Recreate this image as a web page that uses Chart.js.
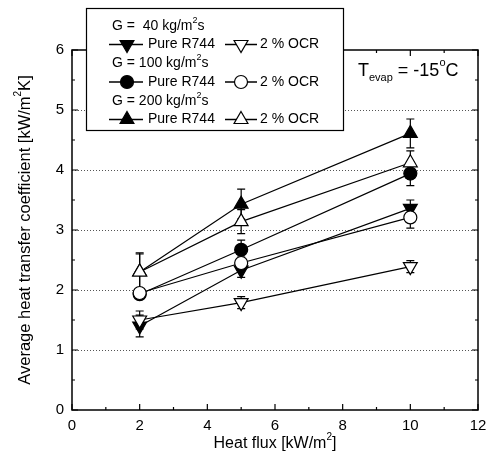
<!DOCTYPE html>
<html>
<head>
<meta charset="utf-8">
<script src="https://cdn.jsdelivr.net/npm/chart.js@4.4.1/dist/chart.umd.min.js"></script>
<style>
  body { margin: 0; background: #fff; }
  #wrap { width: 492px; height: 456px; }
</style>
</head>
<body>
<div id="wrap"><canvas id="htc" width="492" height="456"></canvas></div>
<script>
// Données
const heatFlux = [2, 5, 10];
const g40Pure = [1.40, 2.33, 3.36];
const g40Ocr = [1.50, 1.79, 2.39];
const g100Pure = [1.93, 2.67, 3.94];
const g100Ocr = [1.95, 2.45, 3.21];
const g200Pure = [2.30, 3.43, 4.61];
const g200Ocr = [2.30, 3.14, 4.12];

// Barres d'erreur (demi-largeur)
const g40PureErr = [0.18, 0.12, 0.14];
const g40OcrErr = [0.15, 0.10, 0.10];
const g100PureErr = [0.05, 0.16, 0.20];
const g100OcrErr = [0.05, 0.10, 0.18];
const g200PureErr = [0.30, 0.25, 0.24];
const g200OcrErr = [0.32, 0.20, 0.20];

const xTicks = [0, 2, 4, 6, 8, 10, 12];
const yTicks = [0, 1, 2, 3, 4, 5, 6];
const legendGroups = ['G =  40 kg/m|2|s', 'G = 100 kg/m|2|s', 'G = 200 kg/m|2|s'];

const FONT = '"Liberation Sans", Arial, sans-serif';

function series(values, errs, style, rot, radius, filled) {
    return {
        data: heatFlux.map((x, i) => ({ x: x, y: values[i] })),
        errs: errs,
        showLine: true,
        borderColor: '#000',
        borderWidth: 1.2,
        pointStyle: style,
        rotation: rot,
        pointRadius: radius,
        pointBorderWidth: 1.2,
        pointBorderColor: '#000',
        pointBackgroundColor: filled ? '#000' : '#fff',
        tension: 0
    };
}

// l'ordre compte : index 0 dessiné au-dessus
const datasets = [
    series(g200Ocr, g200OcrErr, 'triangle', 0, 8, false),
    series(g100Ocr, g100OcrErr, 'circle', 0, 6.5, false),
    series(g40Ocr, g40OcrErr, 'triangle', 180, 8, false),
    series(g200Pure, g200PureErr, 'triangle', 0, 8, true),
    series(g100Pure, g100PureErr, 'circle', 0, 6.5, true),
    series(g40Pure, g40PureErr, 'triangle', 180, 8, true)
];

// texte avec exposants/indices : "a|2|b" -> 2 en exposant, "a_evap_b" -> indice
function richText(ctx, str, x, y, size, align) {
    const parts = [];
    str.split('|').forEach((p, i) => {
        if (i % 2 === 1) { parts.push({ t: p, k: 'sup' }); return; }
        p.split('_').forEach((q, j) => parts.push({ t: q, k: j % 2 ? 'sub' : 'n' }));
    });
    const small = Math.round(size * 0.62);
    let w = 0;
    parts.forEach(p => {
        ctx.font = (p.k === 'n' ? size : small) + 'px ' + FONT;
        p.w = ctx.measureText(p.t).width;
        w += p.w;
    });
    let cx = align === 'center' ? x - w / 2 : x;
    ctx.textAlign = 'left';
    ctx.textBaseline = 'middle';
    parts.forEach(p => {
        ctx.font = (p.k === 'n' ? size : small) + 'px ' + FONT;
        let dy = 0;
        if (p.k === 'sup') dy = -size * 0.42;
        if (p.k === 'sub') dy = size * 0.38;
        ctx.fillText(p.t, cx, y + dy);
        cx += p.w;
    });
}

const framePlugin = {
    id: 'frame',
    beforeDatasetsDraw(chart) {
        const { ctx, chartArea: a, scales: { x, y } } = chart;
        ctx.save();
        // lignes de grille pointillées
        ctx.strokeStyle = '#555';
        ctx.lineWidth = 1;
        ctx.setLineDash([1, 2]);
        yTicks.slice(1, -1).forEach(v => {
            const py = Math.round(y.getPixelForValue(v)) + 0.5;
            ctx.beginPath();
            ctx.moveTo(a.left, py);
            ctx.lineTo(a.right, py);
            ctx.stroke();
        });
        ctx.setLineDash([]);
        // barres d'erreur
        ctx.strokeStyle = '#000';
        ctx.lineWidth = 1.2;
        chart.data.datasets.forEach(ds => {
            ds.data.forEach((p, i) => {
                const px = x.getPixelForValue(p.x);
                const top = y.getPixelForValue(p.y + ds.errs[i]);
                const bot = y.getPixelForValue(p.y - ds.errs[i]);
                ctx.beginPath();
                ctx.moveTo(px, top); ctx.lineTo(px, bot);
                ctx.moveTo(px - 4, top); ctx.lineTo(px + 4, top);
                ctx.moveTo(px - 4, bot); ctx.lineTo(px + 4, bot);
                ctx.stroke();
            });
        });
        ctx.restore();
    },
    afterDraw(chart) {
        const { ctx, chartArea: a, scales: { x, y } } = chart;
        ctx.save();
        ctx.strokeStyle = '#000';
        ctx.fillStyle = '#000';
        ctx.lineWidth = 1.5;
        ctx.strokeRect(a.left, a.top, a.right - a.left, a.bottom - a.top);
        // graduations vers l'intérieur
        ctx.lineWidth = 1.2;
        ctx.beginPath();
        for (let v = 0; v <= 12; v++) {
            const px = x.getPixelForValue(v);
            const len = v % 2 === 0 ? 6 : 3;
            ctx.moveTo(px, a.bottom); ctx.lineTo(px, a.bottom - len);
            ctx.moveTo(px, a.top); ctx.lineTo(px, a.top + len);
        }
        for (let v = 0; v <= 6; v += 0.5) {
            const py = y.getPixelForValue(v);
            const len = Number.isInteger(v) ? 6 : 3;
            ctx.moveTo(a.left, py); ctx.lineTo(a.left + len, py);
            ctx.moveTo(a.right, py); ctx.lineTo(a.right - len, py);
        }
        ctx.stroke();

        // étiquettes de l'axe x
        ctx.font = '15px ' + FONT;
        ctx.textAlign = 'center';
        ctx.textBaseline = 'middle';
        xTicks.forEach(v => ctx.fillText(String(v), x.getPixelForValue(v), a.bottom + 16));

        // titres des axes
        richText(ctx, 'Heat flux [kW/m|2|]', (a.left + a.right) / 2, 444, 16, 'center');
        ctx.save();
        ctx.translate(25, (a.top + a.bottom) / 2);
        ctx.rotate(-Math.PI / 2);
        richText(ctx, 'Average heat transfer coefficient [kW/m|2|K]', 0, 0, 16.5, 'center');
        ctx.restore();

        // annotation
        richText(ctx, 'T_evap_ = -15|o|C', 358, 71, 18, 'left');

        // légende
        ctx.fillStyle = '#fff';
        ctx.fillRect(86, 8, 258, 123);
        ctx.lineWidth = 1.2;
        ctx.strokeRect(86.5, 8.5, 257, 122);
        ctx.fillStyle = '#000';
        const pure = [datasets[5], datasets[4], datasets[3]];
        const ocr = [datasets[2], datasets[1], datasets[0]];
        legendGroups.forEach((g, i) => {
            const gy = 26 + i * 37.5;
            const ry = gy + 18.5;
            ctx.fillStyle = '#000';
            richText(ctx, g, 112, gy, 14, 'left');
            [[109, 143, 127, pure[i], 'Pure R744', 148], [225, 257, 241, ocr[i], '2 % OCR', 260]].forEach(e => {
                ctx.strokeStyle = '#000';
                ctx.lineWidth = 1.5;
                ctx.beginPath();
                ctx.moveTo(e[0], ry); ctx.lineTo(e[1], ry);
                ctx.stroke();
                ctx.fillStyle = e[3].pointBackgroundColor;
                ctx.lineWidth = 1.2;
                Chart.helpers.drawPoint(ctx, {
                    pointStyle: e[3].pointStyle,
                    rotation: e[3].rotation,
                    radius: e[3].pointRadius,
                    borderWidth: 1.2
                }, e[2], ry);
                ctx.fillStyle = '#000';
                richText(ctx, e[4], e[5], ry, 14, 'left');
            });
        });
        ctx.restore();
    }
};

new Chart(document.getElementById('htc'), {
    type: 'scatter',
    data: { datasets: datasets },
    options: {
        responsive: false,
        animation: false,
        layout: { padding: { top: 50, right: 14, left: 0, bottom: 0 } },
        plugins: { legend: { display: false }, tooltip: { enabled: false } },
        scales: {
            x: {
                type: 'linear',
                min: 0,
                max: 12,
                afterBuildTicks: s => { s.ticks = xTicks.map(v => ({ value: v })); },
                afterFit: s => { s.height = 46; s.paddingLeft = 0; s.paddingRight = 0; },
                grid: { display: false, drawTicks: false },
                border: { display: false },
                ticks: { display: false }
            },
            y: {
                type: 'linear',
                min: 0,
                max: 6,
                afterBuildTicks: s => { s.ticks = yTicks.map(v => ({ value: v })); },
                afterFit: s => { s.width = 72; s.paddingTop = 0; s.paddingBottom = 0; },
                grid: { display: false, drawTicks: false },
                border: { display: false },
                ticks: { padding: 8, color: '#000', font: { family: FONT, size: 15 } }
            }
        }
    },
    plugins: [framePlugin]
});
</script>
</body>
</html>
